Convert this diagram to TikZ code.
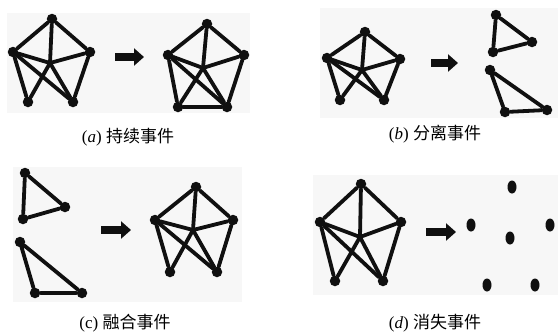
\documentclass[tikz,border=0pt]{standalone}
\usepackage{fontspec}
\setmainfont{Liberation Serif}
\newfontfamily\cjk{Noto Sans CJK SC}
\usetikzlibrary{arrows.meta, shapes.geometric}
\definecolor{graphink}{HTML}{101010}
\definecolor{panelbg}{HTML}{F7F7F7}
\tikzset{
  vtx/.style={circle, fill=graphink, inner sep=0pt, minimum size=10.5pt},
  lonevtx/.style={ellipse, fill=graphink, inner sep=0pt, minimum width=9pt, minimum height=13pt},
  link/.style={draw=graphink, line width=3.8pt, line cap=round},
  evarrow/.style={-{Triangle[length=10pt, width=17pt]}, draw=graphink, line width=8.5pt},
  panel/.style={fill=panelbg, draw=none},
  caption/.style={font=\fontsize{17}{19}\selectfont, text=black, inner sep=0pt}
}
% five-vertex graph: prefix, top, left, right, bottom-left, bottom-right, crossing
\newcommand{\fivegraph}[7]{%
  \coordinate (#1c) at (#7);
  \node[vtx] (#1t) at (#2) {};
  \node[vtx] (#1l) at (#3) {};
  \node[vtx] (#1r) at (#4) {};
  \node[vtx] (#1bl) at (#5) {};
  \node[vtx] (#1br) at (#6) {};
  \foreach \u/\v in {t/l,t/r,t/c,l/c,c/r,l/bl,r/br,l/br,c/bl,c/br}
    \draw[link] (#1\u) -- (#1\v);
}

\begin{document}
\begin{tikzpicture}[x=1pt, y=-1pt]
\useasboundingbox (0,0) rectangle (558,332);

% panel backgrounds
\fill[panel] (7,13) rectangle (250,113);
\fill[panel] (320,8) rectangle (558,118);
\fill[panel] (13,167) rectangle (242,302);
\fill[panel] (313,175) rectangle (558,295);

% (a) persistence
\fivegraph{a1}{52,19}{13,52}{90,52}{28,102}{73,102}{50,63}
\fivegraph{a2}{207,24}{168,55}{244,55}{178,107}{227,107}{203,68}
\draw[link] (a2bl) -- (a2br);
\coordinate (a0) at (115,57); \coordinate (a9) at (144,57);
\draw[evarrow] (a0) -- (a9);
\node[caption] (capa) at (128,137) {(\textit{a})~{\cjk 持续事件}};

% (b) split
\fivegraph{b1}{365,32}{327,58}{400,59}{340,100}{384,100}{362,70}
\node[vtx] (b2a) at (496,15) {};
\node[vtx] (b2b) at (532,42) {};
\node[vtx] (b2c) at (493,52) {};
\node[vtx] (b3a) at (490,70) {};
\node[vtx] (b3b) at (505,112) {};
\node[vtx] (b3c) at (547,110) {};
\draw[link] (b2a) -- (b2b) -- (b2c) -- (b2a);
\draw[link] (b3a) -- (b3b) -- (b3c) -- (b3a);
\coordinate (b0) at (431,63); \coordinate (b9) at (458,63);
\draw[evarrow] (b0) -- (b9);
\node[caption] (capb) at (435,134) {(\textit{b})~{\cjk 分离事件}};

% (c) merge
\node[vtx] (c1a) at (25,173) {};
\node[vtx] (c1b) at (65,207) {};
\node[vtx] (c1c) at (23,219) {};
\node[vtx] (c2a) at (20,242) {};
\node[vtx] (c2b) at (35,293) {};
\node[vtx] (c2c) at (82,293) {};
\draw[link] (c1a) -- (c1b) -- (c1c) -- (c1a);
\draw[link] (c2a) -- (c2b) -- (c2c) -- (c2a);
\fivegraph{c3}{196,187}{155,220}{233,220}{170,272}{217,272}{193,230}
\coordinate (c0) at (101,230); \coordinate (c9) at (131,230);
\draw[evarrow] (c0) -- (c9);
\node[caption] (capc) at (125,323) {(c)~{\cjk 融合事件}};

% (d) dissolve
\fivegraph{d1}{361,184}{320,222}{401,222}{335,281}{383,281}{360,237}
\coordinate (d0) at (426,232); \coordinate (d9) at (456,232);
\draw[evarrow] (d0) -- (d9);
\node[lonevtx] (d2a) at (471,225) {};
\node[lonevtx] (d2b) at (512,187) {};
\node[lonevtx] (d2c) at (510,238) {};
\node[lonevtx] (d2d) at (550,225) {};
\node[lonevtx] (d2e) at (487,285) {};
\node[lonevtx] (d2f) at (535,285) {};
\node[caption] (capd) at (435,323) {(\textit{d})~{\cjk 消失事件}};
\end{tikzpicture}
\end{document}
